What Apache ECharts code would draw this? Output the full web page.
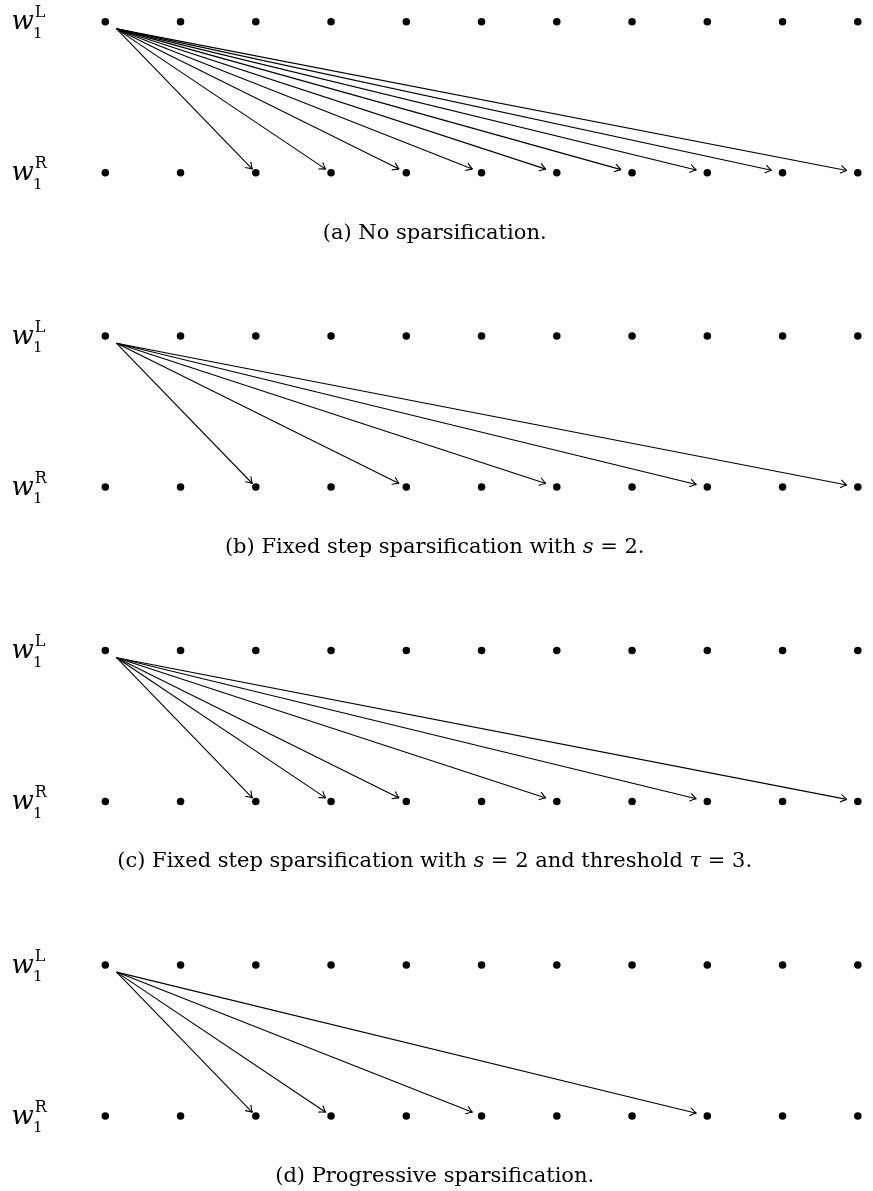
<!DOCTYPE html>
<html>
<head>
<meta charset="utf-8">
<script src="https://cdn.jsdelivr.net/npm/echarts/dist/echarts.min.js"></script>
<style>
  html, body { margin: 0; padding: 0; background: #ffffff; }
  #chart { width: 873px; height: 1191px; }
</style>
</head>
<body>
<div id="chart"></div>
<script>
// ---- data ----
const columns = [0, 1, 2, 3, 4, 5, 6, 7, 8, 9, 10];     // token positions (both rows)
const rowLabels = ['R', 'L'];                            // y = 0 -> w_1^R, y = 1 -> w_1^L
const sourceColumn = 0;
const targetsA = [2, 3, 4, 5, 6, 7, 8, 9, 10];           // (a) no sparsification
const targetsB = [2, 4, 6, 8, 10];                       // (b) fixed step s = 2
const targetsC = [2, 3, 4, 6, 8, 10];                    // (c) s = 2, threshold tau = 3
const targetsD = [2, 3, 5, 8];                           // (d) progressive
const captions = [
  '{t|(a) No sparsification.}',
  '{t|(b) Fixed step sparsification with }{i|s}{t| = 2.}',
  '{t|(c) Fixed step sparsification with }{i|s}{t| = 2 and threshold }{i|τ}{t| = 3.}',
  '{t|(d) Progressive sparsification.}'
];
const panelTargets = [targetsA, targetsB, targetsC, targetsD];

// ---- layout ----
const GRID_LEFT = 105.3, GRID_WIDTH = 752.5;
const PANEL_TOP0 = 21.7, PANEL_STEP = 314.4, ROW_GAP = 151;
const SERIF = 'DejaVu Serif';

const chart = echarts.init(document.getElementById('chart'), null, { renderer: 'canvas' });

const grids = [], xAxes = [], yAxes = [], series = [];
panelTargets.forEach((targets, p) => {
  grids.push({ left: GRID_LEFT, width: GRID_WIDTH, top: PANEL_TOP0 + p * PANEL_STEP, height: ROW_GAP });
  xAxes.push({ gridIndex: p, type: 'value', min: 0, max: 10, show: false });
  yAxes.push({ gridIndex: p, type: 'value', min: 0, max: 1, show: false });
  const dots = [];
  rowLabels.forEach((r, yi) => columns.forEach(c => dots.push([c, yi])));
  series.push({
    type: 'scatter', xAxisIndex: p, yAxisIndex: p, data: dots,
    symbol: 'circle', symbolSize: 7.5, itemStyle: { color: '#000', opacity: 1 }, silent: true, z: 3
  });
  series.push({
    type: 'custom', xAxisIndex: p, yAxisIndex: p,
    data: targets.map(t => [sourceColumn, t]),
    silent: true, z: 2,
    renderItem: function (params, api) {
      const s = api.coord([api.value(0), 1]);
      const t = api.coord([api.value(1), 0]);
      const sx = s[0] + 11.3, sy = s[1] + 7.2;
      const dx = t[0] - sx, dy = t[1] - sy;
      const k = Math.min(11 / Math.abs(dx), 3.6 / Math.abs(dy));
      const ex = t[0] - k * dx, ey = t[1] - k * dy;
      const L = Math.hypot(dx, dy), ux = dx / L, uy = dy / L, nx = -uy, ny = ux;
      const len = 6.2, hw = 4.0;
      const b1 = [ex - len * ux + hw * nx, ey - len * uy + hw * ny];
      const b2 = [ex - len * ux - hw * nx, ey - len * uy - hw * ny];
      const c1 = [ex - 2.4 * ux + 1.1 * nx, ey - 2.4 * uy + 1.1 * ny];
      const c2 = [ex - 2.4 * ux - 1.1 * nx, ey - 2.4 * uy - 1.1 * ny];
      const st = { stroke: '#000', lineWidth: 1.1, fill: null };
      return {
        type: 'group',
        children: [
          { type: 'line', shape: { x1: sx, y1: sy, x2: ex, y2: ey }, style: st },
          { type: 'bezierCurve', shape: { x1: b1[0], y1: b1[1], x2: ex, y2: ey, cpx1: c1[0], cpy1: c1[1] }, style: st },
          { type: 'bezierCurve', shape: { x1: b2[0], y1: b2[1], x2: ex, y2: ey, cpx1: c2[0], cpy1: c2[1] }, style: st }
        ]
      };
    }
  });
});

chart.setOption({
  backgroundColor: '#ffffff',
  animation: false,
  grid: grids, xAxis: xAxes, yAxis: yAxes, series: series
});

// ---- row labels and captions placed from the axis coordinates ----
const graphics = [];
panelTargets.forEach((targets, p) => {
  rowLabels.forEach((r, yi) => {
    const pt = chart.convertToPixel({ gridIndex: p }, [0, yi]);
    graphics.push({ type: 'text', silent: true, style: {
      text: 'w', x: pt[0] - 93.8, y: pt[1] + 1, align: 'left', verticalAlign: 'middle',
      font: 'italic 26px "' + SERIF + '"', fill: '#000' } });
    graphics.push({ type: 'text', silent: true, style: {
      text: r, x: pt[0] - 70.6, y: pt[1] - 8.5, align: 'left', verticalAlign: 'middle',
      font: '16px "' + SERIF + '"', fill: '#000' } });
    graphics.push({ type: 'text', silent: true, style: {
      text: '1', x: pt[0] - 72.3, y: pt[1] + 12.5, align: 'left', verticalAlign: 'middle',
      font: '15px "' + SERIF + '"', fill: '#000' } });
  });
  const top = chart.convertToPixel({ gridIndex: p }, [0, 1]);
  graphics.push({ type: 'text', silent: true, style: {
    text: captions[p], x: 434.7, y: top[1] + 211.5, align: 'center', verticalAlign: 'middle',
    rich: {
      t: { fontFamily: SERIF, fontSize: 21, color: '#000' },
      i: { fontFamily: SERIF, fontSize: 21, fontStyle: 'italic', color: '#000' }
    } } });
});
chart.setOption({ graphic: graphics });
</script>
</body>
</html>
